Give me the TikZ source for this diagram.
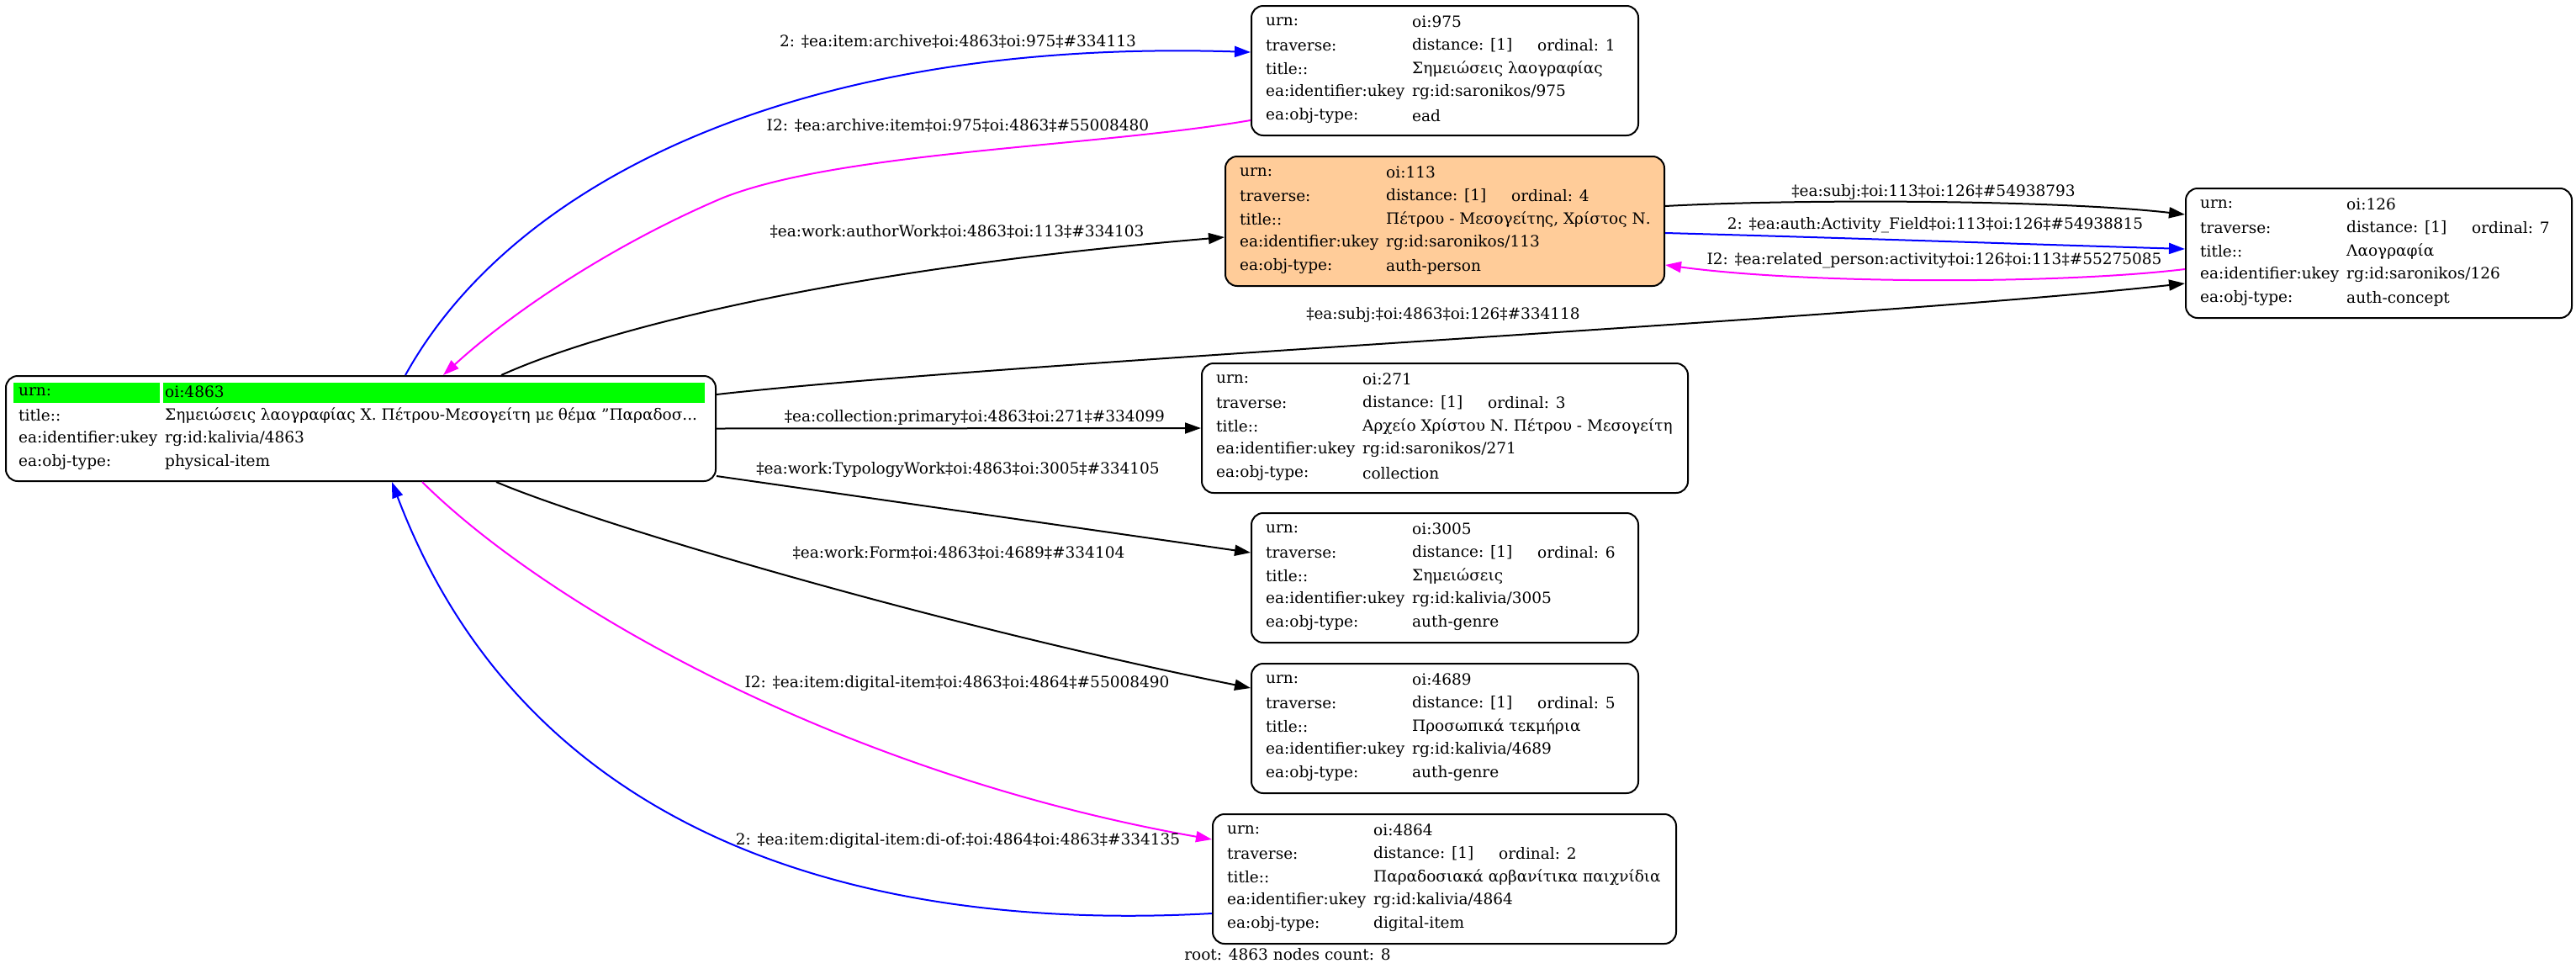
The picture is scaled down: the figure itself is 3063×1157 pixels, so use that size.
\documentclass[tikz,border=0pt]{standalone}
\usepackage{fontspec}
\setmainfont{DejaVu Serif}
\usetikzlibrary{arrows.meta,calc}
\newcommand{\myfs}{\fontsize{18.5}{22}\selectfont}
\definecolor{peach}{HTML}{FFCC99}
\definecolor{gvmagenta}{HTML}{FF00FF}
\definecolor{gvblue}{HTML}{0000FF}
\definecolor{gvgreen}{HTML}{00FF00}
\tikzset{
  recbox/.style={draw=black, line width=2pt, rounded corners=14pt, minimum height=154pt, inner sep=0pt, fill=white},
  txt/.style={anchor=west, inner sep=0pt, font=\myfs},
  lbl/.style={inner sep=0pt, font=\myfs},
  edge/.style={line width=2pt, -{Triangle[length=19pt,width=13pt]}},
}
% #1 extra style, #2 name, #3 top-left, #4 width, #5 urn, #6 ordinal, #7 title, #8 ukey, #9 type
\newcommand{\rec}[9][]{%
  \node[recbox,#1,minimum width=#4pt,anchor=north west] (#2) at (#3) {};
  \path (#2.north west) ++(18,20) node[txt] (#2-a1) {urn:}
        ++(174,0) node[txt] (#2-b1) {#5};
  \path (#2.north west) ++(18,48) node[txt] (#2-a2) {traverse:}
        ++(174,0) node[txt] (#2-b2) {distance: [1]}
        ++(149,0) node[txt] (#2-c2) {ordinal: #6};
  \path (#2.north west) ++(18,76) node[txt] (#2-a3) {title::}
        ++(174,0) node[txt] (#2-b3) {#7};
  \path (#2.north west) ++(18,104) node[txt] (#2-a4) {ea:identifier:ukey}
        ++(174,0) node[txt] (#2-b4) {#8};
  \path (#2.north west) ++(18,132) node[txt] (#2-a5) {ea:obj-type:}
        ++(174,0) node[txt] (#2-b5) {#9};
}
\begin{document}
\begin{tikzpicture}[x=1pt,y=-1pt]
\useasboundingbox (0,0) rectangle (3063,1157);

% main node
\node[recbox, minimum width=844pt, minimum height=125pt, anchor=north west] (n4863) at (6,446) {};
\fill[gvgreen] (16,455) rectangle (190,479);
\fill[gvgreen] (194,455) rectangle (838,479);
\node[txt] (m-a1) at (22,466) {urn:};
\node[txt] (m-b1) at (196,466) {oi:4863};
\node[txt] (m-a2) at (22,494) {title::};
\node[txt] (m-b2) at (196,494) {Σημειώσεις λαογραφίας Χ. Πέτρου-Μεσογείτη με θέμα "Παραδοσ...};
\node[txt] (m-a3) at (22,522) {ea:identifier:ukey};
\node[txt] (m-b3) at (196,522) {rg:id:kalivia/4863};
\node[txt] (m-a4) at (22,550) {ea:obj-type:};
\node[txt] (m-b4) at (196,550) {physical-item};

\rec{n975}{1487,6}{460}{oi:975}{1}{Σημειώσεις λαογραφίας}{rg:id:saronikos/975}{ead}
\rec[fill=peach]{n113}{1456,185}{522}{oi:113}{4}{Πέτρου - Μεσογείτης, Χρίστος Ν.}{rg:id:saronikos/113}{auth-person}
\rec{n126}{2598,223}{459}{oi:126}{7}{Λαογραφία}{rg:id:saronikos/126}{auth-concept}
\rec{n271}{1428,431}{578}{oi:271}{3}{Αρχείο Χρίστου Ν. Πέτρου - Μεσογείτη}{rg:id:saronikos/271}{collection}
\rec{n3005}{1487,609}{460}{oi:3005}{6}{Σημειώσεις}{rg:id:kalivia/3005}{auth-genre}
\rec{n4689}{1487,788}{460}{oi:4689}{5}{Προσωπικά τεκμήρια}{rg:id:kalivia/4689}{auth-genre}
\rec{n4864}{1441,967}{551}{oi:4864}{2}{Παραδοσιακά αρβανίτικα παιχνίδια}{rg:id:kalivia/4864}{digital-item}

% edges
\draw[edge, gvblue] ($(n4863.north west)+(476,0)$) .. controls (610,215) and (950,45) .. ($(n975.north west)+(0,56)$);
\node[lbl] (l1) at (1139,49) {2: ‡ea:item:archive‡oi:4863‡oi:975‡\#334113};

\draw[edge, gvmagenta] ($(n975.north west)+(0,137)$) .. controls (1300,175) and (1000,180) .. (860,235) .. controls (730,290) and (610,370) .. ($(n4863.north west)+(521,0)$);
\node[lbl] (l2) at (1139,149) {I2: ‡ea:archive:item‡oi:975‡oi:4863‡\#55008480};

\draw[edge] ($(n4863.north west)+(590,0)$) .. controls (720,390) and (1000,320) .. ($(n113.north west)+(0,97)$);
\node[lbl] (l3) at (1138,275) {‡ea:work:authorWork‡oi:4863‡oi:113‡\#334103};

\draw[edge] ($(n4863.north east)+(0,23)$) .. controls (1200,430) and (2200,380) .. ($(n126.north west)+(0,114)$);
\node[lbl] (l4) at (1716,375) {‡ea:subj:‡oi:4863‡oi:126‡\#334118};

\draw[edge] (n4863.east) -- (n271.west);
\node[lbl] (l5) at (1159,497) {‡ea:collection:primary‡oi:4863‡oi:271‡\#334099};

\draw[edge] ($(n4863.north east)+(0,120)$) -- ($(n3005.north west)+(0,48)$);
\node[lbl] (l6) at (1139,559) {‡ea:work:TypologyWork‡oi:4863‡oi:3005‡\#334105};

\draw[edge] ($(n4863.south west)+(584,0)$) .. controls (700,620) and (1100,740) .. ($(n4689.north west)+(0,30)$);
\node[lbl] (l7) at (1140,657) {‡ea:work:Form‡oi:4863‡oi:4689‡\#334104};

\draw[edge, gvmagenta] ($(n4863.south west)+(496,0)$) .. controls (650,720) and (1000,920) .. ($(n4864.north west)+(0,31)$);
\node[lbl] (l8) at (1138,813) {I2: ‡ea:item:digital-item‡oi:4863‡oi:4864‡\#55008490};

\draw[edge, gvblue] ($(n4864.north west)+(0,119)$) .. controls (1000,1110) and (620,980) .. ($(n4863.south west)+(460,0)$);
\node[lbl] (l9) at (1139,1000) {2: ‡ea:item:digital-item:di-of:‡oi:4864‡oi:4863‡\#334135};

\draw[edge] ($(n113.north east)+(0,60)$) .. controls (2150,236) and (2450,238) .. ($(n126.north west)+(0,32)$);
\node[lbl] (l10) at (2299,229) {‡ea:subj:‡oi:113‡oi:126‡\#54938793};

\draw[edge, gvblue] ($(n113.north east)+(0,92)$) .. controls (2200,283) and (2400,290) .. ($(n126.north west)+(0,73)$);
\node[lbl] (l11) at (2301,268) {2: ‡ea:auth:Activity\_Field‡oi:113‡oi:126‡\#54938815};

\draw[edge, gvmagenta] ($(n126.north west)+(0,97)$) .. controls (2450,338) and (2150,338) .. ($(n113.north east)+(0,130)$);
\node[lbl] (l12) at (2300,310) {I2: ‡ea:related\_person:activity‡oi:126‡oi:113‡\#55275085};

\node[lbl] (cap) at (1531,1135) {root: 4863 nodes count: 8};
\end{tikzpicture}
\end{document}
